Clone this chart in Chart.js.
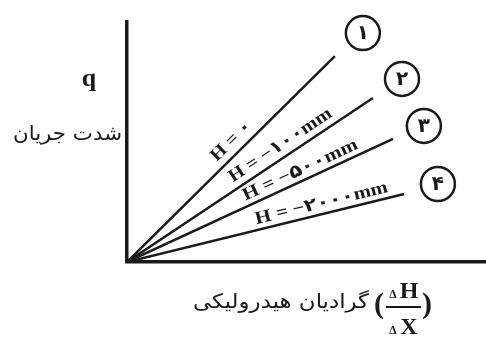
<!DOCTYPE html>
<html>
<head>
<meta charset="utf-8">
<title>q vs hydraulic gradient</title>
<script src="https://cdn.jsdelivr.net/npm/chart.js@4"></script>
<style>
  body { margin: 0; background: #fff; }
  #wrap { width: 486px; height: 337px; position: relative; }
</style>
</head>
<body>
<div id="wrap"><canvas id="chart"></canvas></div>
<script>
// curves: circled id and pressure head label
const curveIds = ['۱', '۲', '۳', '۴'];
const headLabels = ['H = ۰', 'H = −۱۰۰mm', 'H = −۵۰۰mm', 'H = −۲۰۰۰mm'];
// every line starts at the origin, these are the far ends (axis units 0..100)
const lineEndX = [57.9, 68.5, 74.1, 77.2];
const lineEndY = [85.8, 68.3, 51.3, 28.3];
// circled numbers
const markerX = [65.7, 76.6, 82.7, 86.6];
const markerY = [95.4, 76.3, 56.7, 32.5];

const yTitle = 'q';
const yTitleFa = 'شدت جریان';
const xTitleFa = 'گرادیان هیدرولیکی';

// where the H labels sit along each line: fraction t, offset d (px), length (px)
const labelPlace = [
    { t: 0.544, d: 12.5, len: 50 },
    { t: 0.651, d: 12, len: 120 },
    { t: 0.668, d: 10.5, len: 125 },
    { t: 0.711, d: 10.5, len: 136 }
];

const INK = '#1a1a1a';
const SERIF = "'Liberation Serif', 'DejaVu Sans', serif";
const FA = "'DejaVu Sans', sans-serif";

function fitText(ctx, text, x, y, width) {
    const w = ctx.measureText(text).width;
    ctx.save();
    ctx.translate(x, y);
    ctx.scale(width / w, 1);
    ctx.fillText(text, 0, 0);
    ctx.restore();
}

const annotate = {
    id: 'annotate',
    afterDatasetsDraw(chart) {
        const ctx = chart.ctx;
        const xs = chart.scales.x, ys = chart.scales.y;
        const ca = chart.chartArea;
        ctx.save();
        ctx.fillStyle = INK;

        // labels along the lines
        ctx.font = 'bold 18px ' + SERIF;
        ctx.textAlign = 'center';
        ctx.textBaseline = 'middle';
        for (let i = 0; i < headLabels.length; i++) {
            const ox = xs.getPixelForValue(0), oy = ys.getPixelForValue(0);
            const ex = xs.getPixelForValue(lineEndX[i]), ey = ys.getPixelForValue(lineEndY[i]);
            const dx = ex - ox, dy = ey - oy, L = Math.hypot(dx, dy);
            const ux = dx / L, uy = dy / L;
            const p = labelPlace[i];
            const cx = ox + p.t * L * ux + p.d * uy;
            const cy = oy + p.t * L * uy - p.d * ux;
            ctx.save();
            ctx.translate(cx, cy);
            ctx.rotate(Math.atan2(dy, dx));
            fitText(ctx, headLabels[i], 0, 0, p.len);
            ctx.restore();
        }

        // numbers inside circles
        ctx.font = 'bold 20px ' + FA;
        for (let i = 0; i < curveIds.length; i++) {
            ctx.fillText(curveIds[i], xs.getPixelForValue(markerX[i]), ys.getPixelForValue(markerY[i]) + 1);
        }

        // y axis titles
        ctx.font = 'bold 26px ' + SERIF;
        ctx.textBaseline = 'alphabetic';
        ctx.fillText(yTitle, ca.left - 38, 86);
        ctx.font = '20px ' + FA;
        ctx.textAlign = 'right';
        fitText(ctx, yTitleFa, ca.left - 5, 140, 109);

        // x axis title: persian text + (ΔH / ΔX)
        const by = ca.bottom;
        ctx.textBaseline = 'middle';
        ctx.font = '20px ' + FA;
        fitText(ctx, xTitleFa, 369, by + 41, 176);

        ctx.textAlign = 'center';
        ctx.font = 'bold 30px ' + SERIF;
        ctx.fillText('(', 379, by + 43);
        ctx.fillText(')', 427, by + 43);

        ctx.textBaseline = 'alphabetic';
        ctx.font = 'bold 24px ' + SERIF;
        ctx.fillText('H', 409, by + 36);
        ctx.fillText('X', 409, by + 72);
        ctx.font = 'bold 12px ' + SERIF;
        ctx.fillText('∆', 393, by + 36);
        ctx.fillText('∆', 393, by + 72);
        ctx.fillRect(386, by + 44, 35, 2);

        ctx.restore();
    }
};

const lineSets = lineEndX.map((x, i) => ({
    label: headLabels[i],
    data: [{ x: 0, y: 0 }, { x: x, y: lineEndY[i] }],
    showLine: true,
    borderColor: INK,
    borderWidth: 2.5,
    pointRadius: 0
}));

const markerSet = {
    label: 'ids',
    data: markerX.map((x, i) => ({ x: x, y: markerY[i] })),
    showLine: false,
    pointStyle: 'circle',
    pointRadius: 17,
    pointBackgroundColor: '#fff',
    pointBorderColor: INK,
    pointBorderWidth: 2.5,
    clip: false
};

new Chart(document.getElementById('chart'), {
    type: 'scatter',
    data: { datasets: [...lineSets, markerSet] },
    options: {
        responsive: true,
        maintainAspectRatio: false,
        animation: false,
        layout: { autoPadding: false, padding: { left: 127, top: 22, right: 0, bottom: 75 } },
        plugins: { legend: { display: false }, tooltip: { enabled: false } },
        scales: {
            x: {
                min: 0, max: 100,
                grid: { display: false },
                ticks: { display: false },
                border: { display: true, width: 3.5, color: INK },
                afterFit(scale) { scale.height = 0; scale.paddingLeft = 0; scale.paddingRight = 0; }
            },
            y: {
                min: 0, max: 100,
                grid: { display: false },
                ticks: { display: false },
                border: { display: true, width: 3.5, color: INK },
                afterFit(scale) { scale.width = 0; scale.paddingTop = 0; scale.paddingBottom = 0; }
            }
        }
    },
    plugins: [annotate]
});
</script>
</body>
</html>
